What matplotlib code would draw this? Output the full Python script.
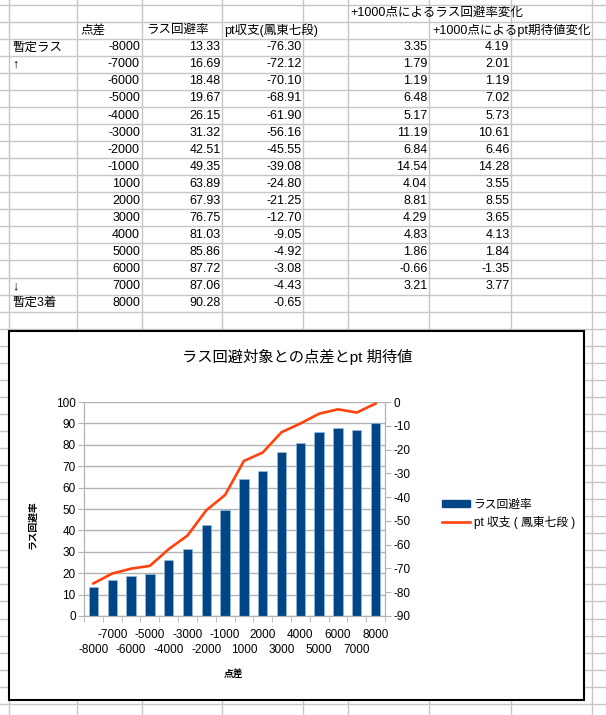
import matplotlib.pyplot as plt
from matplotlib.patches import Rectangle
from matplotlib.lines import Line2D

plt.rcParams['font.family'] = ['Liberation Sans', 'Noto Sans CJK JP', 'DejaVu Sans']
plt.rcParams['axes.unicode_minus'] = False

# data
diff = [-8000, -7000, -6000, -5000, -4000, -3000, -2000, -1000,
        1000, 2000, 3000, 4000, 5000, 6000, 7000, 8000]
rate = [13.33, 16.69, 18.48, 19.67, 26.15, 31.32, 42.51, 49.35,
        63.89, 67.93, 76.75, 81.03, 85.86, 87.72, 87.06, 90.28]
pt = [-76.30, -72.12, -70.10, -68.91, -61.90, -56.16, -45.55, -39.08,
      -24.80, -21.25, -12.70, -9.05, -4.92, -3.08, -4.43, -0.65]
rate_change = [3.35, 1.79, 1.19, 6.48, 5.17, 11.19, 6.84, 14.54,
               4.04, 8.81, 4.29, 4.83, 1.86, -0.66, 3.21]
pt_change = [4.19, 2.01, 1.19, 7.02, 5.73, 10.61, 6.46, 14.28,
             3.55, 8.55, 3.65, 4.13, 1.84, -1.35, 3.77]
notes = {0: "暫定ラス", 1: "↑", 14: "↓", 15: "暫定3着"}
headers = ["点差", "ラス回避率", "pt収支(鳳東七段)"]

W, H = 606, 715
fig = plt.figure(figsize=(W / 100, H / 100), dpi=100)

# spreadsheet background in pixel coords
bg = fig.add_axes([0, 0, 1, 1])
bg.set_xlim(0, W)
bg.set_ylim(H, 0)
bg.axis("off")

grid_c = "#c6c6c6"
cols = [9, 77, 142, 222, 303, 348, 429, 511, 592]
y0, rh = 4.7, 17.05
for x in cols:
    bg.plot([x, x], [0, H], color=grid_c, lw=1)
k = 0
while y0 + rh * k < H:
    y = y0 + rh * k
    bg.plot([0, W], [y, y], color=grid_c, lw=1)
    k += 1


def row_y(r):
    return y0 + rh * (r + 0.5)


fs = 9
bg.text(350, row_y(0), "+1000点によるラス回避率変化", fontsize=fs, va="center")
bg.text(80, row_y(1), headers[0], fontsize=fs, va="center")
bg.text(146, row_y(1), headers[1], fontsize=fs, va="center")
bg.text(224, row_y(1), headers[2], fontsize=fs, va="center")
bg.text(432, row_y(1), "+1000点によるpt期待値変化", fontsize=fs, va="center")

for i in range(len(diff)):
    y = row_y(i + 2)
    if i in notes:
        bg.text(12, y, notes[i], fontsize=fs, va="center")
    bg.text(140, y, str(diff[i]), fontsize=fs, va="center", ha="right")
    bg.text(220.5, y, f"{rate[i]:.2f}", fontsize=fs, va="center", ha="right")
    bg.text(301.5, y, f"{pt[i]:.2f}", fontsize=fs, va="center", ha="right")
for i in range(len(rate_change)):
    y = row_y(i + 2)
    bg.text(427.5, y, f"{rate_change[i]:.2f}", fontsize=fs, va="center", ha="right")
    bg.text(509.5, y, f"{pt_change[i]:.2f}", fontsize=fs, va="center", ha="right")

# chart box
bg.add_patch(Rectangle((9, 331), 575, 369, facecolor="white",
                       edgecolor="black", lw=1.5, zorder=5))

# chart axes
L, R, T, B = 84, 385, 402, 616
ax = fig.add_axes([L / W, 1 - B / H, (R - L) / W, (B - T) / H])
ax.set_facecolor("none")
ax2 = ax.twinx()

pos = list(range(len(diff)))
ax.bar(pos, rate, width=0.5, color="#004586", edgecolor="#9dbfe3", lw=0.4,
       label="ラス回避率")
ax2.plot(pos, pt, color="#ff420e", lw=1.9, label="pt 収支 ( 鳳東七段 )")

ax.set_xlim(-0.5, 15.5)
ax.set_ylim(0, 100)
ax.set_yticks(range(0, 101, 10))
ax2.set_ylim(-90, 0)
ax2.set_yticks(range(-90, 1, 10))
ax.set_axisbelow(True)
ax.yaxis.grid(True, color="#b3b3b3", lw=1)

# x labels staggered over two rows: odd categories upper, even lower
upper = [p for p in pos if p % 2]
lower = [p for p in pos if p % 2 == 0]
ax.set_xticks(upper)
ax.set_xticklabels([str(diff[p]) for p in upper])
ax.set_xticks([p - 0.5 for p in pos] + [15.5], minor=True)
ax.tick_params(axis="x", which="major", length=0, pad=9, labelsize=8.5)
ax.tick_params(axis="x", which="minor", length=4.5, color="#b3b3b3")
sec = ax.secondary_xaxis("bottom")
sec.set_xticks(lower)
sec.set_xticklabels([str(diff[p]) for p in lower])
sec.tick_params(axis="x", length=0, pad=20.5, labelsize=8.5)
sec.spines["bottom"].set_visible(False)

ax.tick_params(axis="y", length=4, color="#b3b3b3", labelsize=8.5, pad=2)
ax2.tick_params(axis="y", length=4, color="#b3b3b3", labelsize=8.5, pad=2)

for a in (ax, ax2):
    for s in a.spines.values():
        s.set_color("#b3b3b3")
    a.spines["top"].set_visible(False)

fig.text(297 / W, 1 - 357 / H, "ラス回避対象との点差とpt 期待値", fontsize=11,
         ha="center", va="center")
fig.text(33 / W, 1 - 525 / H, "ラス回避率", fontsize=7, rotation=90,
         ha="center", va="center", weight="bold")
fig.text(233 / W, 1 - 674 / H, "点差", fontsize=7, ha="center", va="center",
         weight="bold")

handles = [Rectangle((0, 0), 1, 1, color="#004586"),
           Line2D([], [], color="#ff420e", lw=1.9)]
fig.legend(handles, ["ラス回避率", "pt 収支 ( 鳳東七段 )"], loc="center left",
           bbox_to_anchor=(431 / W, 1 - 514 / H), frameon=False, fontsize=8.5,
           handlelength=2.4, handleheight=0.45, handletextpad=0.3,
           labelspacing=0.45)

fig.savefig("out.png", dpi=100)
